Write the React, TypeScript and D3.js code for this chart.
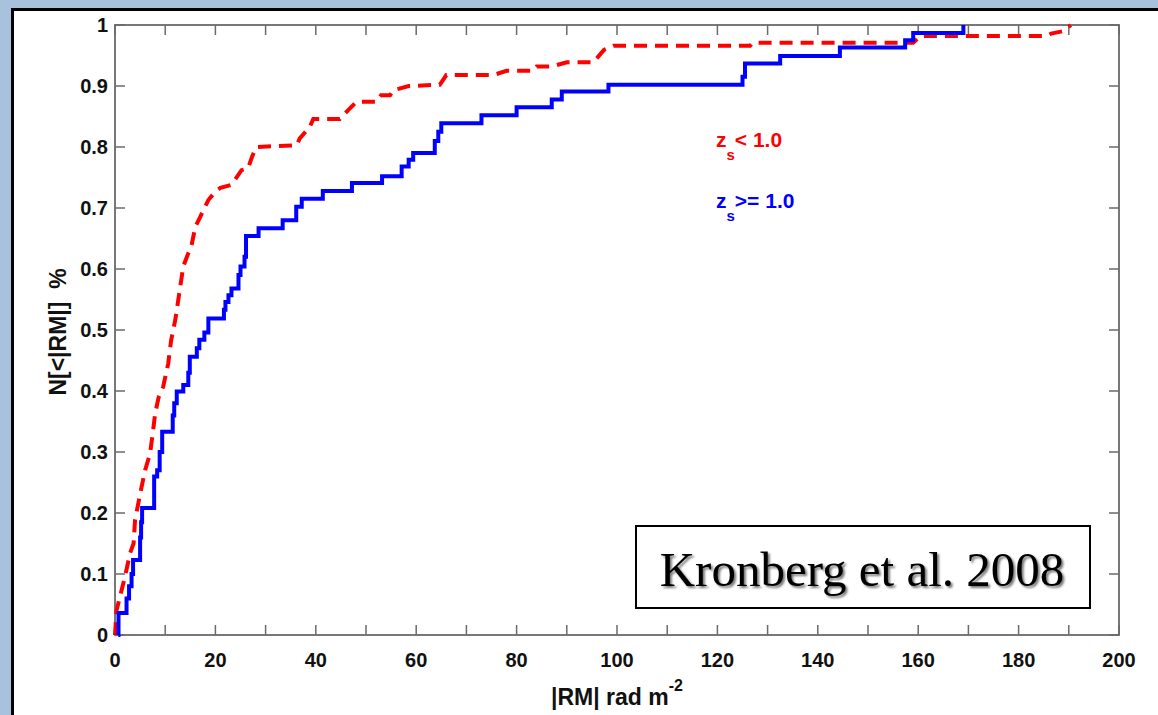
import React from "react";
import * as d3 from "d3";

// ---- data ----
const xTickValues = [0, 10, 20, 30, 40, 50, 60, 70, 80, 90, 100, 110, 120, 130, 140, 150, 160, 170, 180, 190, 200];
const xTickLabels = ["0", "20", "40", "60", "80", "100", "120", "140", "160", "180", "200"];
const yTickValues = [0, 0.1, 0.2, 0.3, 0.4, 0.5, 0.6, 0.7, 0.8, 0.9, 1];
const yTickLabels = ["0", "0.1", "0.2", "0.3", "0.4", "0.5", "0.6", "0.7", "0.8", "0.9", "1"];

// z_s >= 1.0 (blue, solid step curve)
const blueRM = [0.66, 0.7, 2.3, 2.8, 3.3, 3.6, 5.0, 5.2, 5.4, 7.8, 8.4, 8.9, 9.4, 11.5, 11.8, 12.3, 13.6, 14.6, 14.9, 16.3, 16.8, 17.8, 18.6, 21.7, 22.0, 22.6, 23.2, 24.6, 25.0, 25.8, 26.1, 28.6, 33.4, 36.1, 37.2, 41.4, 47.2, 53.2, 57.1, 58.5, 59.4, 63.7, 64.4, 65.0, 73.0, 80.0, 87.0, 89.0, 98.3, 125.0, 125.5, 132.5, 144.4, 157.4, 159.0, 169.0];
const blueN = [0, 0.036, 0.06, 0.08, 0.1, 0.123, 0.16, 0.185, 0.208, 0.26, 0.27, 0.3, 0.333, 0.36, 0.38, 0.399, 0.41, 0.43, 0.456, 0.47, 0.484, 0.496, 0.519, 0.533, 0.546, 0.557, 0.568, 0.59, 0.604, 0.62, 0.654, 0.667, 0.68, 0.702, 0.715, 0.728, 0.741, 0.752, 0.768, 0.779, 0.79, 0.81, 0.825, 0.839, 0.852, 0.865, 0.878, 0.891, 0.902, 0.915, 0.937, 0.949, 0.963, 0.975, 0.987, 1.0];

// z_s < 1.0 (red, dashed)
const redRM = [0, 0.3, 1, 2, 3, 3.7, 4, 5.3, 6, 7, 7.6, 8, 8.7, 9.6, 10.6, 11.2, 12, 12.6, 13, 13.6, 14.6, 15.2, 16, 17, 18.6, 20, 21, 23.2, 25.2, 26.5, 27.3, 28.2, 36.2, 36.8, 38.8, 39.5, 44.8, 46.5, 48.1, 52.1, 53, 54.8, 55.4, 58.5, 64.7, 66, 75.4, 78, 83.3, 84, 87, 90, 95.3, 97.4, 99.3, 126.5, 127, 159, 160.4, 185.6, 186.5, 188.9, 190.4];
const redN = [0, 0.04, 0.063, 0.096, 0.134, 0.15, 0.189, 0.243, 0.27, 0.298, 0.336, 0.363, 0.39, 0.407, 0.445, 0.484, 0.516, 0.549, 0.571, 0.604, 0.626, 0.637, 0.669, 0.686, 0.713, 0.727, 0.733, 0.738, 0.762, 0.765, 0.784, 0.8, 0.803, 0.814, 0.833, 0.846, 0.846, 0.861, 0.874, 0.874, 0.885, 0.885, 0.893, 0.9, 0.902, 0.918, 0.918, 0.925, 0.925, 0.932, 0.932, 0.939, 0.939, 0.959, 0.966, 0.966, 0.971, 0.971, 0.982, 0.982, 0.986, 0.99, 1.0];

const W = 1158;
const H = 715;
const left = 115, right = 1119, top = 25, bottom = 635;

const SANS = "'Liberation Sans', Arial, Helvetica, sans-serif";
const SERIF = "'Liberation Serif', 'Times New Roman', Times, serif";

export default function App() {
  const x = d3.scaleLinear().domain([0, 200]).range([left, right]);
  const y = d3.scaleLinear().domain([0, 1]).range([bottom, top]);

  const bluePts: [number, number][] = blueRM.map((r, i) => [r, blueN[i]]);
  const redPts: [number, number][] = redRM.map((r, i) => [r, redN[i]]);

  const stepLine = d3
    .line<[number, number]>()
    .x((d) => x(d[0]))
    .y((d) => y(d[1]))
    .curve(d3.curveStepAfter);
  const linLine = d3
    .line<[number, number]>()
    .x((d) => x(d[0]))
    .y((d) => y(d[1]))
    .curve(d3.curveLinear);

  const axisColor = "#6a6a6a";
  const tickLen = 10;

  return (
    <svg
      width={W}
      height={H}
      viewBox={`0 0 ${W} ${H}`}
      style={{ position: "absolute", left: 0, top: 0, display: "block" }}
    >
      <defs>
        <filter id="shadow" x="-10%" y="-30%" width="120%" height="160%">
          <feGaussianBlur stdDeviation="1.2" />
        </filter>
      </defs>
      {/* background frame */}
      <rect x={0} y={0} width={W} height={H} fill="#a8c2de" />
      <rect x={12.5} y={9.5} width={W} height={H} fill="#ffffff" stroke="#000" strokeWidth={3} />

      {/* axes box */}
      <rect x={left} y={top} width={right - left} height={bottom - top} fill="none" stroke={axisColor} strokeWidth={1.8} />

      {/* x ticks */}
      {xTickValues.map((v) => (
        <g key={"xt" + v}>
          <line x1={x(v)} x2={x(v)} y1={bottom} y2={bottom - tickLen} stroke={axisColor} strokeWidth={1.5} />
          <line x1={x(v)} x2={x(v)} y1={top} y2={top + tickLen} stroke={axisColor} strokeWidth={1.5} />
        </g>
      ))}
      {/* y ticks */}
      {yTickValues.map((v) => (
        <g key={"yt" + v}>
          <line x1={left} x2={left + tickLen} y1={y(v)} y2={y(v)} stroke={axisColor} strokeWidth={1.5} />
          <line x1={right} x2={right - tickLen} y1={y(v)} y2={y(v)} stroke={axisColor} strokeWidth={1.5} />
        </g>
      ))}

      {/* x tick labels */}
      {xTickLabels.map((t) => (
        <text
          key={"xl" + t}
          x={x(+t)}
          y={667}
          textAnchor="middle"
          fontFamily={SANS}
          fontWeight="bold"
          fontSize={20}
          fill="#111"
        >
          {t}
        </text>
      ))}
      {/* y tick labels */}
      {yTickLabels.map((t) => (
        <text
          key={"yl" + t}
          x={108}
          y={y(+t) + 7}
          textAnchor="end"
          fontFamily={SANS}
          fontWeight="bold"
          fontSize={20}
          fill="#111"
        >
          {t}
        </text>
      ))}

      {/* axis titles */}
      <text x={617} y={705} textAnchor="middle" fontFamily={SANS} fontWeight="bold" fontSize={23} fill="#111">
        |RM| rad m
        <tspan dy={-14} fontSize={16}>-2</tspan>
      </text>
      <text
        transform={`translate(66, ${(top + bottom) / 2 + 2}) rotate(-90)`}
        textAnchor="middle"
        fontFamily={SANS}
        fontWeight="bold"
        fontSize={23}
        fill="#111"
      >
        {"N[<|RM|]\u00a0\u00a0%"}
      </text>

      {/* curves */}
      <path d={linLine(redPts) || ""} fill="none" stroke="#ff0000" strokeWidth={4} strokeDasharray="13,8" />
      <path d={stepLine(bluePts) || ""} fill="none" stroke="#0000ff" strokeWidth={4} />

      {/* legend labels */}
      <text x={716} y={147} fontFamily={SANS} fontWeight="bold" fontSize={21} fill="#ff0000">
        z<tspan dy={13} fontSize={15}>s</tspan>
        <tspan dy={-13}>{"< 1.0"}</tspan>
      </text>
      <text x={716} y={208} fontFamily={SANS} fontWeight="bold" fontSize={21} fill="#0000ff">
        z<tspan dy={13} fontSize={15}>s</tspan>
        <tspan dy={-13}>{">= 1.0"}</tspan>
      </text>

      {/* annotation box */}
      <rect x={636} y={526} width={454} height={82} fill="#ffffff" stroke="#000" strokeWidth={2} />
      <text x={864} y={588} textAnchor="middle" fontFamily={SERIF} fontSize={49} fill="#777" filter="url(#shadow)">
        Kronberg et al. 2008
      </text>
      <text x={862} y={586} textAnchor="middle" fontFamily={SERIF} fontSize={49} fill="#000">
        Kronberg et al. 2008
      </text>
    </svg>
  );
}
